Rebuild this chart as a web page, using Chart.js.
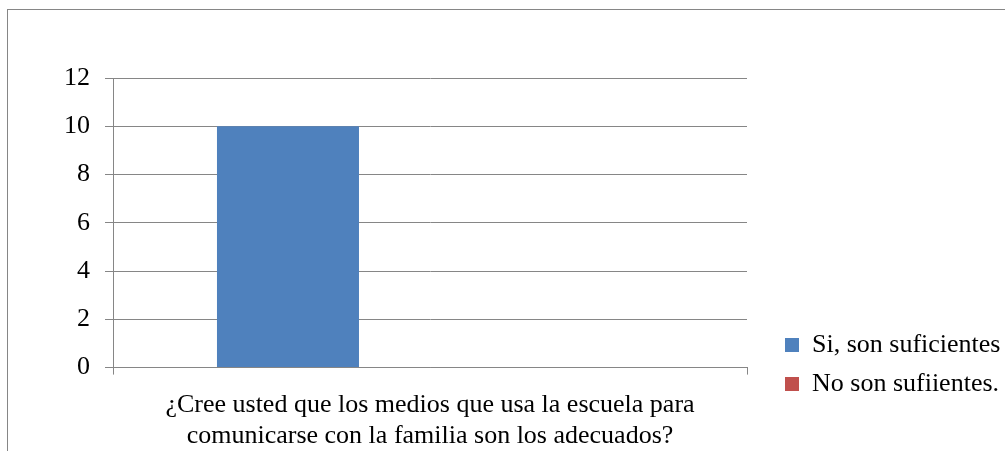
<!DOCTYPE html>
<html>
<head>
<meta charset="utf-8">
<script src="https://cdn.jsdelivr.net/npm/chart.js@4/dist/chart.umd.min.js"></script>
<style>
html, body { margin: 0; padding: 0; background: #fff; overflow: hidden; }
#wrap { position: relative; width: 1005px; height: 451px; }
#frame { position: absolute; left: 7px; top: 9px; width: 1100px; height: 600px; border: 1px solid #868686; pointer-events: none; }
</style>
</head>
<body>
<div id="wrap">
  <canvas id="chart" width="1005" height="451"></canvas>
  <div id="frame"></div>
</div>
<script>
const categories = [['¿Cree usted que los medios que usa la escuela para', 'comunicarse con la familia son los adecuados?']];
const seriesNames = ['Si, son suficientes', 'No son sufiientes.', ''];
const siValues = [10];
const noValues = [0];
const blankValues = [null]; // third, unnamed series in the original workbook
const seriesColors = ['#4F81BD', '#C0504D', '#9BBB59'];
const yMin = 0, yMax = 12, yStep = 2;

Chart.defaults.font.family = 'Liberation Serif';
Chart.defaults.font.size = 26;
Chart.defaults.color = '#000';

// warm the serif font up so the first labels drawn don't fall back to sans
const warm = document.createElement('canvas').getContext('2d');
warm.font = '26px "Liberation Serif"';
warm.fillText('0123456789 ¿Cree', 0, 20);

// legend sits low on the right, like the Excel original
const legendPlace = {
    id: 'legendPlace',
    beforeLayout(chart) {
        const lg = chart.legend;
        if (lg && !lg._wrapped) {
            const fit = lg.fit;
            lg.fit = function () { fit.call(this); this.width = 258; };
            lg._wrapped = true;
        }
    },
    afterLayout(chart) {
        const lg = chart.legend;
        const dx = 772 - lg.left, dy = 410 - lg.bottom;
        lg.left += dx; lg.right += dx;
        lg.top += dy; lg.bottom += dy;
    }
};

const grey = '#868686';
const chart = new Chart(document.getElementById('chart').getContext('2d'), {
    type: 'bar',
    data: {
        labels: categories,
        datasets: [
            { label: seriesNames[0], data: siValues, backgroundColor: seriesColors[0] },
            { label: seriesNames[1], data: noValues, backgroundColor: seriesColors[1] },
            { label: seriesNames[2], data: blankValues, backgroundColor: seriesColors[2] }
        ]
    },
    options: {
        responsive: false,
        animation: false,
        categoryPercentage: 0.672,
        barPercentage: 1,
        layout: { padding: { top: 78, left: 0, right: 0, bottom: -16 } },
        plugins: {
            tooltip: { enabled: false },
            legend: {
                position: 'right',
                align: 'end',
                labels: {
                    boxWidth: 14, boxHeight: 14, padding: 13,
                    filter: item => item.text !== ''
                }
            }
        },
        scales: {
            x: {
                offset: true,
                grid: { display: true, drawOnChartArea: false, drawTicks: true, tickLength: 7, color: grey, offset: true },
                border: { color: grey },
                ticks: { padding: 15, maxRotation: 0, autoSkip: false }
            },
            y: {
                min: yMin, max: yMax,
                ticks: { stepSize: yStep, padding: 15 },
                grid: { color: grey, tickLength: 8 },
                border: { color: grey },
                afterFit: s => { s.width = 113; }
            }
        }
    },
    plugins: [legendPlace]
});

// redraw once the font is surely in place
setTimeout(() => chart.update('none'), 150);
setTimeout(() => chart.update('none'), 600);
</script>
</body>
</html>
